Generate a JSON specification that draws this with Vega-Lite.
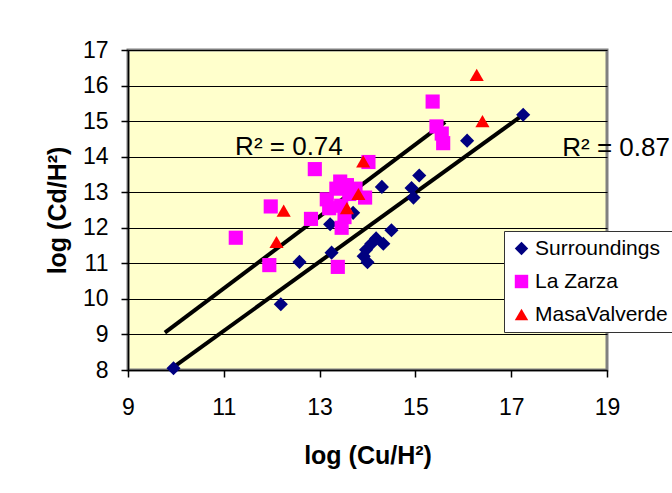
{
  "$schema": "https://vega.github.io/schema/vega-lite/v6.json",
  "width": 479,
  "height": 320,
  "autosize": {"type": "none"},
  "padding": {"left": 128, "top": 50, "right": 65, "bottom": 123},
  "background": "white",
  "config": {
    "font": "Liberation Sans",
    "view": {"fill": "#FFFFCC", "stroke": "#808080", "strokeWidth": 3}
  },
  "datasets": {
    "pts": [
      {"series": "Surroundings", "x": 9.95, "y": 8.05},
      {"series": "Surroundings", "x": 12.19, "y": 9.85},
      {"series": "Surroundings", "x": 12.58, "y": 11.04},
      {"series": "Surroundings", "x": 13.22, "y": 12.1},
      {"series": "Surroundings", "x": 13.25, "y": 11.3},
      {"series": "Surroundings", "x": 13.7, "y": 12.42},
      {"series": "Surroundings", "x": 13.92, "y": 11.2},
      {"series": "Surroundings", "x": 14.0, "y": 11.03},
      {"series": "Surroundings", "x": 13.97, "y": 11.38},
      {"series": "Surroundings", "x": 14.08, "y": 11.55},
      {"series": "Surroundings", "x": 14.18, "y": 11.7},
      {"series": "Surroundings", "x": 14.33, "y": 11.55},
      {"series": "Surroundings", "x": 14.3, "y": 13.15},
      {"series": "Surroundings", "x": 14.5, "y": 11.93},
      {"series": "Surroundings", "x": 14.92, "y": 13.12},
      {"series": "Surroundings", "x": 14.96, "y": 12.85},
      {"series": "Surroundings", "x": 15.08, "y": 13.47},
      {"series": "Surroundings", "x": 16.08, "y": 14.45},
      {"series": "Surroundings", "x": 17.25, "y": 15.18},
      {"series": "La Zarza", "x": 11.25, "y": 11.72},
      {"series": "La Zarza", "x": 11.95, "y": 10.95},
      {"series": "La Zarza", "x": 11.98, "y": 12.6},
      {"series": "La Zarza", "x": 12.82, "y": 12.25},
      {"series": "La Zarza", "x": 12.9, "y": 13.65},
      {"series": "La Zarza", "x": 13.15, "y": 12.8},
      {"series": "La Zarza", "x": 13.2, "y": 12.55},
      {"series": "La Zarza", "x": 13.35, "y": 13.1},
      {"series": "La Zarza", "x": 13.43, "y": 13.3},
      {"series": "La Zarza", "x": 13.45, "y": 12.62},
      {"series": "La Zarza", "x": 13.46, "y": 12.0},
      {"series": "La Zarza", "x": 13.52, "y": 12.3},
      {"series": "La Zarza", "x": 13.57, "y": 13.2},
      {"series": "La Zarza", "x": 13.62, "y": 12.95},
      {"series": "La Zarza", "x": 13.75, "y": 13.1},
      {"series": "La Zarza", "x": 13.38, "y": 10.9},
      {"series": "La Zarza", "x": 13.95, "y": 12.85},
      {"series": "La Zarza", "x": 14.02, "y": 13.85},
      {"series": "La Zarza", "x": 15.36, "y": 15.55},
      {"series": "La Zarza", "x": 15.44, "y": 14.85},
      {"series": "La Zarza", "x": 15.55, "y": 14.65},
      {"series": "La Zarza", "x": 15.58, "y": 14.38},
      {"series": "MasaValverde", "x": 12.1, "y": 11.6},
      {"series": "MasaValverde", "x": 12.25, "y": 12.48},
      {"series": "MasaValverde", "x": 13.57, "y": 12.55},
      {"series": "MasaValverde", "x": 13.81, "y": 12.95},
      {"series": "MasaValverde", "x": 13.91, "y": 13.87},
      {"series": "MasaValverde", "x": 16.28, "y": 16.3},
      {"series": "MasaValverde", "x": 16.4, "y": 15.0}
    ],
    "fits": [
      {"line": "Surroundings", "x": 9.95, "y": 8.08},
      {"line": "Surroundings", "x": 17.25, "y": 15.18},
      {"line": "Mines", "x": 9.77, "y": 9.05},
      {"line": "Mines", "x": 15.62, "y": 14.97}
    ],
    "labels": [
      {"text": "R² = 0.74", "x": 12.36, "y": 14.27},
      {"text": "R² = 0.87", "x": 19.19, "y": 14.24}
    ]
  },
  "encoding": {
    "x": {
      "field": "x", "type": "quantitative",
      "scale": {"domain": [9, 19], "nice": false, "zero": false},
      "axis": {
        "title": "log (Cu/H²)", "values": [9, 11, 13, 15, 17, 19], "grid": false,
        "domainColor": "black", "domainWidth": 1.5, "tickColor": "black", "tickWidth": 1.5, "tickSize": 7,
        "labelFontSize": 23, "labelColor": "black", "labelPadding": 19, "labelFlush": false, "labelOverlap": false,
        "titleFontSize": 25, "titleFontWeight": "bold", "titleColor": "black", "titlePadding": 24
      }
    },
    "y": {
      "field": "y", "type": "quantitative",
      "scale": {"domain": [8, 17], "nice": false, "zero": false},
      "axis": {
        "title": "log (Cd/H²)", "values": [8, 9, 10, 11, 12, 13, 14, 15, 16, 17], "grid": true,
        "gridColor": "black", "gridWidth": 1, "gridOpacity": 1,
        "domainColor": "black", "domainWidth": 1.5, "tickColor": "black", "tickWidth": 1.5, "tickSize": 7,
        "labelFontSize": 23, "labelColor": "black", "labelPadding": 13, "labelFlush": false, "labelOverlap": false,
        "titleFontSize": 25, "titleFontWeight": "bold", "titleColor": "black", "titlePadding": 12
      }
    }
  },
  "layer": [
    {
      "data": {"values": [{}]},
      "mark": {"type": "rect", "fillOpacity": 0, "stroke": "black", "strokeWidth": 1, "clip": false},
      "encoding": {
        "x": {"datum": 6.52, "type": "quantitative"},
        "x2": {"datum": 21.5},
        "y": {"datum": 18.07, "type": "quantitative"},
        "y2": {"datum": 4.71}
      }
    },
    {
      "data": {"name": "fits"},
      "mark": {"type": "line", "color": "black", "strokeWidth": 4, "strokeCap": "butt"},
      "encoding": {"detail": {"field": "line"}}
    },
    {
      "data": {"name": "pts"},
      "mark": {"type": "point", "filled": true, "size": 200, "opacity": 1, "strokeWidth": 0},
      "encoding": {
        "color": {
          "field": "series", "type": "nominal",
          "scale": {"domain": ["Surroundings", "La Zarza", "MasaValverde"], "range": ["#000080", "#FF00FF", "#FF0000"]},
          "legend": {
            "orient": "none", "legendX": 376, "legendY": 181, "title": null,
            "fillColor": "white", "strokeColor": "#333333", "padding": 7,
            "labelFontSize": 21, "labelColor": "black", "symbolSize": 180, "rowPadding": 11,
            "labelOffset": 3, "symbolStrokeWidth": 0, "symbolOpacity": 1
          }
        },
        "shape": {
          "field": "series", "type": "nominal",
          "scale": {"domain": ["Surroundings", "La Zarza", "MasaValverde"], "range": ["diamond", "square", "triangle-up"]},
          "legend": {
            "orient": "none", "legendX": 376, "legendY": 181, "title": null,
            "fillColor": "white", "strokeColor": "#333333", "padding": 7,
            "labelFontSize": 21, "labelColor": "black", "symbolSize": 180, "rowPadding": 11,
            "labelOffset": 3, "symbolStrokeWidth": 0, "symbolOpacity": 1
          }
        }
      }
    },
    {
      "data": {"values": [{}]},
      "mark": {"type": "rect", "fill": "white", "stroke": null},
      "encoding": {
        "x": {"datum": 11.23, "type": "quantitative"},
        "x2": {"datum": 13.49},
        "y": {"datum": 14.8, "type": "quantitative"},
        "y2": {"datum": 13.77}
      }
    },
    {
      "data": {"name": "labels"},
      "mark": {"type": "text", "fontSize": 26, "color": "black", "align": "center", "baseline": "middle"},
      "encoding": {"text": {"field": "text"}}
    }
  ]
}
